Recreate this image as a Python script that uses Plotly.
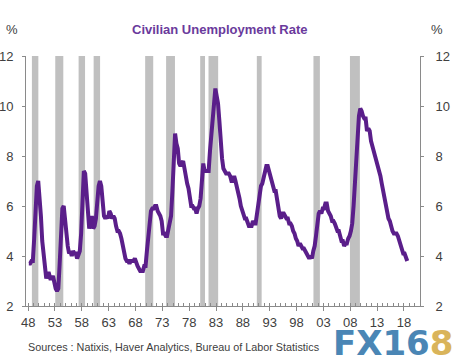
import numpy as np
import plotly.graph_objects as go

# ---- data ----
start_year = 1948
# quarterly civilian unemployment rate (%), 1948Q1 .. 2018Q3
unemp = [
    3.7, 3.7, 3.8, 3.8,   # 1948
    4.7, 5.9, 6.8, 7.0,   # 1949
    6.4, 5.6, 4.6, 4.2,   # 1950
    3.5, 3.1, 3.3, 3.3,   # 1951
    3.1, 3.1, 3.2, 2.9,   # 1952
    2.7, 2.6, 2.7, 3.7,   # 1953
    5.3, 5.9, 6.0, 5.3,   # 1954
    4.7, 4.4, 4.1, 4.2,   # 1955
    4.0, 4.2, 4.1, 4.1,   # 1956
    3.9, 4.1, 4.2, 4.9,   # 1957
    6.3, 7.4, 7.3, 6.4,   # 1958
    5.8, 5.1, 5.3, 5.6,   # 1959
    5.1, 5.2, 5.5, 6.3,   # 1960
    6.8, 7.0, 6.8, 6.2,   # 1961
    5.6, 5.5, 5.6, 5.5,   # 1962
    5.8, 5.7, 5.5, 5.6,   # 1963
    5.5, 5.2, 5.0, 5.0,   # 1964
    4.9, 4.7, 4.4, 4.1,   # 1965
    3.9, 3.8, 3.8, 3.7,   # 1966
    3.8, 3.8, 3.8, 3.9,   # 1967
    3.7, 3.6, 3.5, 3.4,   # 1968
    3.4, 3.4, 3.6, 3.6,   # 1969
    4.2, 4.8, 5.2, 5.8,   # 1970
    5.9, 5.9, 6.0, 6.0,   # 1971
    5.8, 5.7, 5.6, 5.4,   # 1972
    4.9, 4.9, 4.8, 4.8,   # 1973
    5.1, 5.2, 5.6, 6.6,   # 1974
    8.3, 8.9, 8.5, 8.3,   # 1975
    7.7, 7.6, 7.7, 7.8,   # 1976
    7.5, 7.1, 6.9, 6.7,   # 1977
    6.3, 6.0, 6.0, 5.9,   # 1978
    5.9, 5.7, 5.9, 6.0,   # 1979
    6.3, 7.3, 7.7, 7.4,   # 1980
    7.4, 7.4, 7.4, 8.2,   # 1981
    8.8, 9.4, 9.9, 10.7,  # 1982
    10.4, 10.1, 9.4, 8.5, # 1983
    7.9, 7.5, 7.4, 7.3,   # 1984
    7.3, 7.3, 7.2, 7.0,   # 1985
    7.0, 7.2, 7.0, 6.8,   # 1986
    6.6, 6.3, 6.0, 5.8,   # 1987
    5.7, 5.5, 5.5, 5.3,   # 1988
    5.2, 5.2, 5.2, 5.4,   # 1989
    5.3, 5.3, 5.7, 6.1,   # 1990
    6.6, 6.8, 6.9, 7.1,   # 1991
    7.4, 7.6, 7.6, 7.4,   # 1992
    7.2, 7.1, 6.8, 6.6,   # 1993
    6.6, 6.2, 6.0, 5.6,   # 1994
    5.5, 5.7, 5.7, 5.6,   # 1995
    5.5, 5.5, 5.3, 5.3,   # 1996
    5.2, 5.0, 4.9, 4.7,   # 1997
    4.6, 4.4, 4.5, 4.4,   # 1998
    4.3, 4.3, 4.2, 4.1,   # 1999
    4.0, 3.9, 4.0, 3.9,   # 2000
    4.2, 4.4, 4.8, 5.5,   # 2001
    5.7, 5.8, 5.7, 5.9,   # 2002
    5.9, 6.1, 6.1, 5.8,   # 2003
    5.7, 5.6, 5.4, 5.4,   # 2004
    5.3, 5.1, 5.0, 5.0,   # 2005
    4.7, 4.6, 4.6, 4.4,   # 2006
    4.5, 4.5, 4.7, 4.8,   # 2007
    5.0, 5.3, 6.0, 6.9,   # 2008
    8.3, 9.3, 9.6, 9.9,   # 2009
    9.8, 9.6, 9.5, 9.5,   # 2010
    9.0, 9.1, 9.0, 8.6,   # 2011
    8.3, 8.2, 8.0, 7.8,   # 2012
    7.7, 7.5, 7.2, 6.9,   # 2013
    6.6, 6.2, 6.1, 5.7,   # 2014
    5.5, 5.4, 5.1, 5.0,   # 2015
    4.9, 4.9, 4.9, 4.8,   # 2016
    4.6, 4.4, 4.3, 4.1,   # 2017
    4.1, 3.9, 3.8,        # 2018
]

# recession shading (as drawn, in fractional years)
rec_start = [1948.7, 1953.05, 1957.4, 1960.2, 1969.8, 1973.7, 1980.05, 1981.6, 1990.6, 2001.15, 2007.95]
rec_end   = [1949.9, 1954.55, 1958.6, 1961.4, 1971.3, 1975.35, 1980.95, 1983.4, 1991.5, 2002.35, 2009.8]

tick_years = [1948, 1953, 1958, 1963, 1968, 1973, 1978, 1983, 1988, 1993, 1998, 2003, 2008, 2013, 2018]
tick_text = ["48", "53", "58", "63", "68", "73", "78", "83", "88", "93", "98", "03", "08", "13", "18"]
y_ticks = [2, 4, 6, 8, 10, 12]

title_text = "Civilian Unemployment Rate"
source_text = "Sources : Natixis, Haver Analytics, Bureau of Labor Statistics"

# ---- figure ----
x = start_year + np.arange(len(unemp)) / 4.0 + 0.125

FONT = "Liberation Sans, Arial, sans-serif"
TXT = "#404040"
AX = "#8a8a8a"
PURPLE = "#5a1e8a"

W, H = 461, 359
L, R, T, B = 26, 41, 56, 53
PW, PH = W - L - R, H - T - B


def px(xp):
    return (xp - L) / PW


def py(yp):
    return 1 - (yp - T) / PH


fig = go.Figure()
fig.add_trace(go.Scatter(x=x, y=unemp, mode="lines",
                         line=dict(color=PURPLE, width=4), hoverinfo="skip",
                         showlegend=False))
# invisible trace for right axis
fig.add_trace(go.Scatter(x=[x[0]], y=[unemp[0]], yaxis="y2", mode="markers",
                         marker=dict(opacity=0), showlegend=False, hoverinfo="skip"))

shapes = []
for s, e in zip(rec_start, rec_end):
    shapes.append(dict(type="rect", xref="x", yref="y", x0=s, x1=e, y0=2, y1=12,
                       fillcolor="#c0c0c0", line=dict(width=0), layer="below"))

annotations = [
    dict(text="<b>" + title_text + "</b>", xref="paper", yref="paper",
         x=px(220), y=py(30), xanchor="center", yanchor="middle",
         showarrow=False, font=dict(size=13, color="#6a3a9c", family=FONT)),
    dict(text="%", xref="paper", yref="paper", x=px(12), y=py(30),
         xanchor="center", yanchor="middle", showarrow=False,
         font=dict(size=13, color=TXT, family=FONT)),
    dict(text="%", xref="paper", yref="paper", x=px(437), y=py(30),
         xanchor="center", yanchor="middle", showarrow=False,
         font=dict(size=13, color=TXT, family=FONT)),
    dict(text=source_text, xref="paper", yref="paper", x=px(26),
         y=py(347), xanchor="left", yanchor="middle", showarrow=False,
         font=dict(size=10.8, color=TXT, family=FONT)),
    dict(text='<b><span style="color:#4a86b5">FX16</span><span style="color:#d9b45a">8</span></b>',
         xref="paper", yref="paper", x=px(393), y=py(343),
         xanchor="center", yanchor="middle", showarrow=False,
         font=dict(size=34, family="DejaVu Sans, sans-serif")),
]

fig.update_layout(
    width=W, height=H,
    margin=dict(l=L, r=R, t=T, b=B, pad=0),
    paper_bgcolor="white", plot_bgcolor="white",
    font=dict(family=FONT, color=TXT, size=13),
    shapes=shapes,
    annotations=annotations,
    xaxis=dict(range=[1947.6, 2021.0], showgrid=False, zeroline=False, automargin=False,
               showline=True, linecolor=AX, linewidth=1,
               tickmode="array", tickvals=tick_years, ticktext=tick_text,
               ticks="outside", ticklen=4, tickcolor=AX,
               minor=dict(ticks="inside", ticklen=3, dtick=1, tick0=1948, tickcolor=AX),
               tickfont=dict(size=13, color=TXT)),
    yaxis=dict(range=[2, 12], tickvals=y_ticks, showgrid=False, zeroline=False,
               automargin=False, showline=True, linecolor=AX, linewidth=1,
               ticks="outside", ticklen=3, tickcolor=AX,
               ticklabelstandoff=6, tickfont=dict(size=13, color=TXT)),
    yaxis2=dict(range=[2, 12], tickvals=y_ticks, overlaying="y", side="right",
                automargin=False, showgrid=False, zeroline=False, showline=True,
                linecolor=AX, linewidth=1, ticks="outside", ticklen=3, tickcolor=AX,
                ticklabelstandoff=9, tickfont=dict(size=13, color=TXT)),
)

fig.write_html("out.html", config={"displayModeBar": False},
               post_script="document.body.style.margin='0';document.body.style.overflow='hidden';")
